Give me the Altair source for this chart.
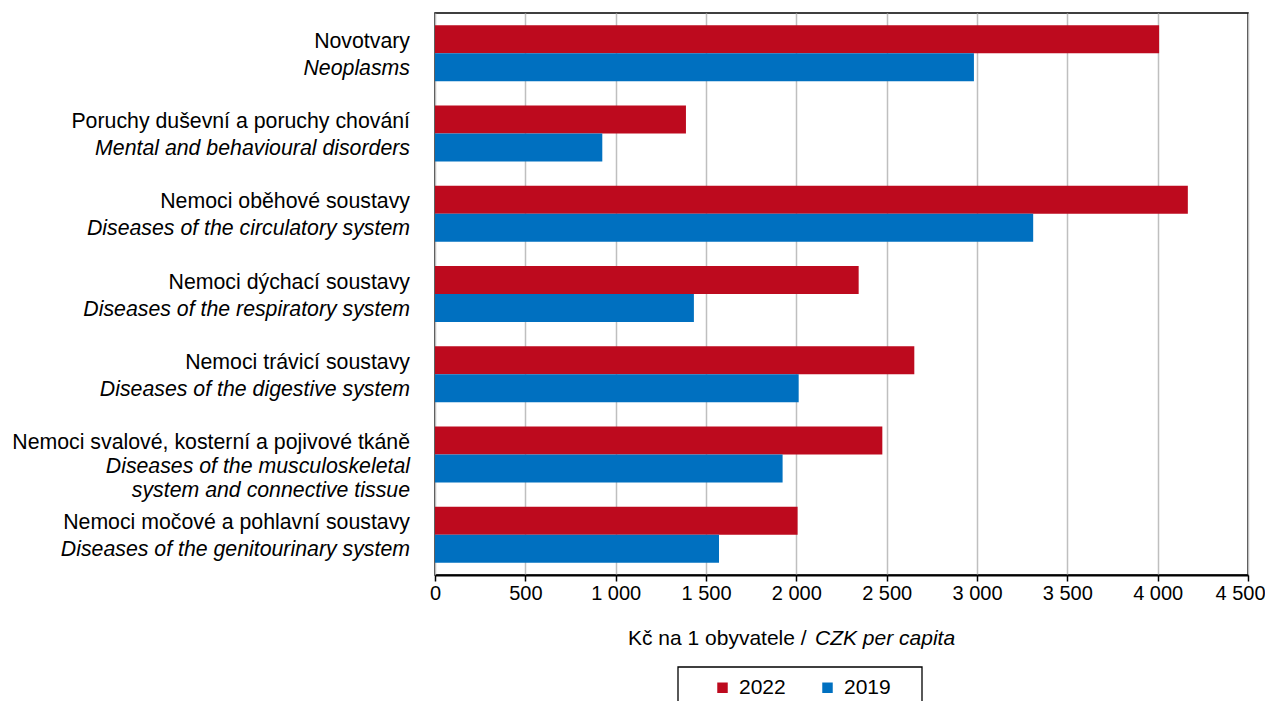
import altair as alt
import pandas as pd

# ---- data ----
cats_cs = [
    "Novotvary",
    "Poruchy duševní a poruchy chování",
    "Nemoci oběhové soustavy",
    "Nemoci dýchací soustavy",
    "Nemoci trávicí soustavy",
    "Nemoci svalové, kosterní a pojivové tkáně",
    "Nemoci močové a pohlavní soustavy",
]
cats_en = [
    ["Neoplasms"],
    ["Mental and behavioural disorders"],
    ["Diseases of the circulatory system"],
    ["Diseases of the respiratory system"],
    ["Diseases of the digestive system"],
    ["Diseases of the musculoskeletal", "system and connective tissue"],
    ["Diseases of the genitourinary system"],
]
years = ["2022", "2019"]
values_2022 = [4008, 1389, 4167, 2345, 2653, 2476, 2007]
values_2019 = [2983, 926, 3311, 1433, 2013, 1924, 1572]
colors = ["#BD0A1E", "#0070C0"]
x_ticks = [0, 500, 1000, 1500, 2000, 2500, 3000, 3500, 4000, 4500]
title_regular = "Kč na 1 obyvatele /"
title_italic = "CZK per capita"

FONT = "Liberation Sans"

rows = []
for c, a, b in zip(cats_cs, values_2022, values_2019):
    rows.append({"cat": c, "year": "2022", "value": a})
    rows.append({"cat": c, "year": "2019", "value": b})
bars_df = pd.DataFrame(rows)

lab_rows = []
for c, en in zip(cats_cs, cats_en):
    lab_rows.append({"cat": c, "text": c, "role": "cs"})
    if len(en) == 1:
        lab_rows.append({"cat": c, "text": en[0], "role": "en"})
    else:
        lab_rows.append({"cat": c, "text": en[0], "role": "en1"})
        lab_rows.append({"cat": c, "text": en[1], "role": "en2"})
lab_df = pd.DataFrame(lab_rows)

y_enc = alt.Y(
    "cat:N",
    sort=cats_cs,
    scale=alt.Scale(paddingInner=0, paddingOuter=0),
    axis=alt.Axis(
        labels=False,
        title=None,
        domainColor="black",
        domainWidth=2,
        tickColor="black",
        tickSize=6,
        tickWidth=1.5,
        bandPosition=1,
        tickExtra=True,
        grid=False,
    ),
)

bars = alt.Chart(bars_df).mark_bar().encode(
    y=y_enc,
    yOffset=alt.YOffset(
        "year:N", sort=years, scale=alt.Scale(paddingInner=0, paddingOuter=0.434)
    ),
    x=alt.X(
        "value:Q",
        scale=alt.Scale(domain=[0, 4500], nice=False),
        axis=alt.Axis(
            values=x_ticks,
            labelExpr="replace(format(datum.value, ','), ',', ' ')",
            labelFontSize=20,
            labelFont=FONT,
            labelColor="black",
            labelPadding=2,
            labelFlush=False,
            labelOffset={"condition": {"test": "datum.value == 4500", "value": -8}, "value": 0},
            domainColor="black",
            domainWidth=2,
            tickColor="black",
            tickSize=6,
            tickWidth=1.5,
            gridColor="#BFBFBF",
            gridWidth=1.5,
            title=None,
        ),
    ),
    color=alt.Color(
        "year:N",
        scale=alt.Scale(domain=years, range=colors),
        legend=alt.Legend(
            orient="none",
            legendX=277,
            legendY=664,
            direction="horizontal",
            title=None,
            symbolType="square",
            symbolSize=110,
            symbolStrokeWidth=0,
            labelFontSize=21,
            labelFont=FONT,
            labelColor="black",
            labelOffset=6,
            columnPadding=31,
            padding=0,
        ),
    ),
)


def label_layer(role, dy, italic):
    return (
        alt.Chart(lab_df)
        .transform_filter(alt.datum.role == role)
        .mark_text(
            align="right",
            baseline="middle",
            dy=dy,
            fontSize=21.3,
            font=FONT,
            fontStyle="italic" if italic else "normal",
            color="black",
        )
        .encode(
            y=alt.Y("cat:N", sort=cats_cs, axis=None),
            x=alt.value(-25),
            text="text:N",
        )
    )


lab_cs = label_layer("cs", -11.5, False)
lab_en = label_layer("en", 15.5, True)
lab_en1 = label_layer("en1", 12, True)
lab_en2 = label_layer("en2", 36, True)

one = pd.DataFrame({"a": [title_regular], "b": [title_italic]})
xt1 = alt.Chart(one).mark_text(
    align="left", baseline="middle", fontSize=21, font=FONT, color="black"
).encode(x=alt.value(193), y=alt.value(626), text="a:N")
xt2 = alt.Chart(one).mark_text(
    align="left", baseline="middle", fontSize=21, font=FONT, fontStyle="italic",
    color="black",
).encode(x=alt.value(380), y=alt.value(626), text="b:N")

legend_box = alt.Chart(one).mark_rect(
    fill="white", fillOpacity=0, stroke="black", strokeWidth=1.3
).encode(x=alt.value(243), x2=alt.value(487), y=alt.value(654), y2=alt.value(760))

chart = (
    alt.layer(legend_box, bars, lab_cs, lab_en, lab_en1, lab_en2, xt1, xt2)
    .properties(
        width=813,
        height=562,
        autosize=alt.AutoSizeParams(type="none"),
        padding={"left": 427, "top": 5, "right": 17, "bottom": 126},
        view=alt.ViewBackground(stroke="black", strokeWidth=1.5),
    )
    .configure_view(stroke="black", strokeWidth=1.5)
    .configure(background="white")
)

chart.save("out.html", embed_options={"renderer": "svg", "actions": False})
